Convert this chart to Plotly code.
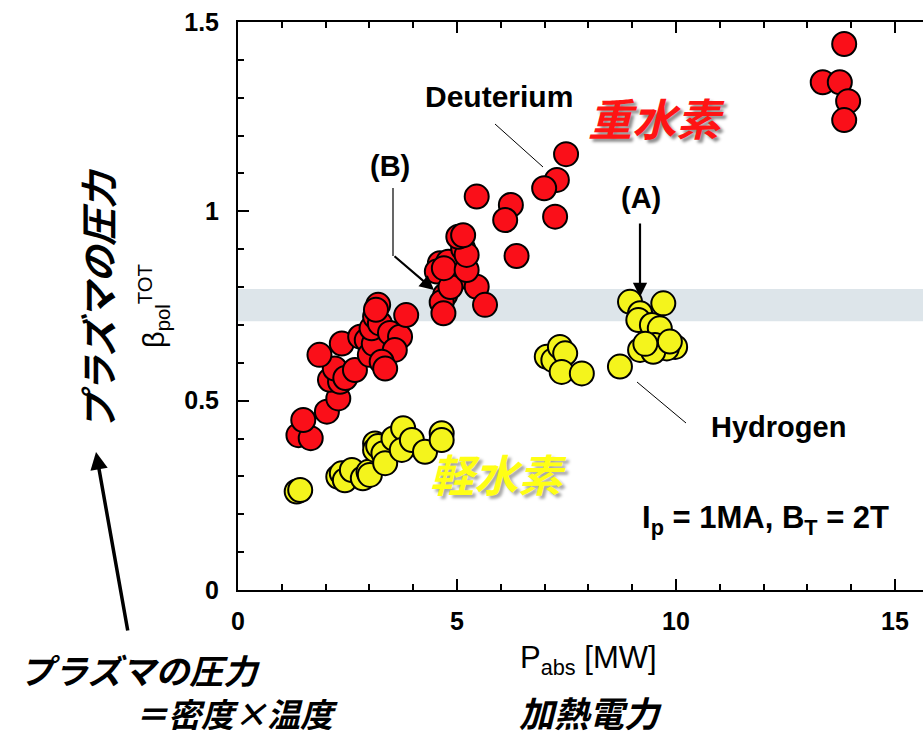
import plotly.graph_objects as go

# ---------------- data ----------------
deut_x = [1.38, 1.66, 1.49, 2.03, 2.29, 2.10, 2.33, 2.21, 2.45, 2.67, 1.86, 2.37, 2.79, 2.94,
          3.01, 3.10, 3.05, 3.13, 3.24, 3.20, 3.15, 3.47, 3.70, 3.84, 3.58, 3.28, 3.36,
          4.61, 4.80, 4.54, 4.95, 5.45, 5.64, 4.73, 4.65, 4.69, 4.85, 4.70, 5.22, 5.14, 5.22, 5.03, 5.14,
          5.45, 6.23, 6.10, 6.36, 7.49, 7.28, 6.99, 7.24,
          13.84, 13.35, 13.74, 13.93, 13.84]
deut_y = [0.409, 0.401, 0.449, 0.471, 0.506, 0.555, 0.550, 0.585, 0.560, 0.581, 0.621, 0.651, 0.669, 0.660,
          0.621, 0.650, 0.691, 0.722, 0.704, 0.753, 0.740, 0.679, 0.669, 0.726, 0.634, 0.603, 0.585,
          0.863, 0.867, 0.841, 0.819, 0.801, 0.753, 0.779, 0.760, 0.731, 0.800, 0.850, 0.845, 0.902, 0.885, 0.933, 0.937,
          1.039, 1.017, 0.977, 0.882, 1.151, 1.083, 1.061, 0.986,
          1.442, 1.341, 1.341, 1.291, 1.241]

hyd_x = [1.34, 1.42, 2.29, 2.37, 2.44, 2.60, 2.85, 2.98, 3.01, 3.13, 3.13, 3.20, 3.32, 3.36,
         3.55, 3.77, 3.74, 3.97, 4.27, 4.65, 4.65,
         7.05, 7.20, 7.35, 7.47, 7.39, 7.85, 8.72,
         8.95, 9.71, 9.18, 9.14, 9.45, 9.63, 9.18, 9.52, 9.98, 9.79, 9.48, 9.86, 9.30]
hyd_y = [0.260, 0.264, 0.299, 0.308, 0.290, 0.317, 0.295, 0.312, 0.304, 0.387, 0.370, 0.380, 0.361, 0.335,
         0.400, 0.427, 0.370, 0.396, 0.365, 0.414, 0.396,
         0.616, 0.607, 0.642, 0.625, 0.576, 0.572, 0.590,
         0.761, 0.757, 0.731, 0.713, 0.700, 0.691, 0.634, 0.647, 0.642, 0.638, 0.629, 0.656, 0.650]

band_y = [0.71, 0.795]
x_ticks = [0, 5, 10, 15]
y_ticks = [0, 0.5, 1, 1.5]
y_tick_labels = ["0", "0.5", "1", "1.5"]

# ---------------- layout helpers ----------------
W, H = 923, 736
L, R, T, B = 238, 923, 22, 590


def px(x):
    return (x - L) / (R - L)


def py(y):
    return (B - y) / (B - T)


LAT = "Liberation Sans, Arial, sans-serif"
JP = "Noto Sans CJK JP"

fig = go.Figure()

fig.add_trace(go.Scatter(
    x=deut_x, y=deut_y, mode="markers",
    marker=dict(size=24, color="#fa0f19", line=dict(color="black", width=2)),
    showlegend=False, cliponaxis=False))
fig.add_trace(go.Scatter(
    x=hyd_x, y=hyd_y, mode="markers",
    marker=dict(size=24, color="#f4f41c", line=dict(color="black", width=2)),
    showlegend=False, cliponaxis=False))

shapes = [
    dict(type="rect", xref="paper", yref="y", x0=0, x1=1, y0=band_y[0], y1=band_y[1],
         fillcolor="#dde5ea", line=dict(width=0), layer="below"),
    # leader lines
    dict(type="line", xref="paper", yref="paper", x0=px(495), y0=py(124), x1=px(543), y1=py(167),
         line=dict(color="black", width=1)),
    dict(type="line", xref="paper", yref="paper", x0=px(637), y0=py(382), x1=px(686), y1=py(423),
         line=dict(color="black", width=1)),
    dict(type="line", xref="paper", yref="paper", x0=px(393), y0=py(188), x1=px(393), y1=py(256),
         line=dict(color="black", width=1.2)),
]

ann = []


def text(x, y, s, size, color="black", family=LAT, weight="normal", style="normal",
         angle=0, shadow="none", xanchor="center"):
    ann.append(dict(x=px(x), y=py(y), xref="paper", yref="paper", text=s, showarrow=False,
                    textangle=angle, xanchor=xanchor, yanchor="middle",
                    font=dict(size=size, color=color, family=family, weight=weight,
                              style=style, shadow=shadow)))


text(499, 96, "Deuterium", 30, weight="bold")
text(656, 117, "重水素", 44, color="#ff1414", family=JP, weight="bold", style="italic",
     shadow="3px 3px 3px rgba(0,0,0,0.45)")
text(390, 166, "(B)", 29, weight="bold")
text(641, 198, "(A)", 29, weight="bold")
text(778, 427, "Hydrogen", 29, weight="bold")
text(498, 473, "軽水素", 44, color="#ffff14", family=JP, weight="bold", style="italic",
     shadow="3px 3px 3px rgba(0,0,0,0.35)")
text(765, 520, "I<sub>p</sub> = 1MA, B<sub>T</sub> = 2T", 31, weight="bold")
text(588, 660, "P<sub>abs</sub> [MW]", 31)
text(590, 711, "加熱電力", 35, family=JP, weight="bold", style="italic")
text(140, 669, "プラズマの圧力", 34, family=JP, weight="bold", style="italic")
text(236, 713, "＝密度×温度", 33, family=JP, weight="bold", style="italic")
text(154, 306, "β<sub>pol</sub><sup>TOT</sup>", 29, angle=-90)
text(97, 300, "プラズマの圧力", 37, family=JP, weight="bold", style="italic", angle=-90)

# arrows
ann.append(dict(x=px(434), y=py(290), xref="paper", yref="paper", text="", showarrow=True,
                ax=393 - 434, ay=255 - 290, arrowhead=2, arrowsize=1.3, arrowwidth=2.2,
                arrowcolor="black"))
ann.append(dict(x=px(640), y=py(297), xref="paper", yref="paper", text="", showarrow=True,
                ax=0, ay=222 - 297, arrowhead=2, arrowsize=1.3, arrowwidth=2.2,
                arrowcolor="black"))
ann.append(dict(x=px(96), y=py(452), xref="paper", yref="paper", text="", showarrow=True,
                ax=128 - 96, ay=632 - 452, arrowhead=2, arrowsize=1.0, arrowwidth=3.5,
                arrowcolor="black"))

fig.update_layout(
    width=W, height=H,
    margin=dict(l=L, r=W - R, t=T, b=H - B),
    paper_bgcolor="white", plot_bgcolor="white",
    shapes=shapes, annotations=ann,
    showlegend=False,
    xaxis=dict(range=[0, (R - L) / 43.8], tickvals=x_ticks, ticktext=[str(v) for v in x_ticks],
               ticks="inside", ticklen=11, tickwidth=2, tickcolor="black",
               showline=True, linewidth=2, linecolor="black", mirror="ticks",
               showgrid=False, zeroline=False,
               minor=dict(dtick=1, ticks="inside", ticklen=6, tickwidth=1.5, tickcolor="black",
                          showgrid=False),
               tickfont=dict(family=LAT, size=25, color="black", weight="bold"),
               ticklabelstandoff=8),
    yaxis=dict(range=[0, 1.5], tickvals=y_ticks, ticktext=y_tick_labels,
               ticks="inside", ticklen=11, tickwidth=2, tickcolor="black",
               showline=True, linewidth=2, linecolor="black", mirror=False,
               showgrid=False, zeroline=False,
               minor=dict(dtick=0.1, ticks="inside", ticklen=6, tickwidth=1.5, tickcolor="black",
                          showgrid=False),
               tickfont=dict(family=LAT, size=25, color="black", weight="bold"),
               ticklabelstandoff=12),
)

fig.write_html("out.html", config={"displayModeBar": False},
               post_script="document.body.style.margin='0';document.body.style.overflow='hidden';")
